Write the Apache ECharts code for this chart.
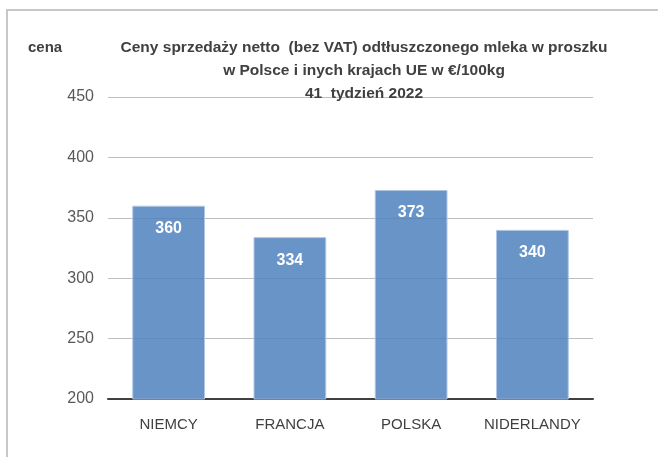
<!DOCTYPE html>
<html>
<head>
<meta charset="utf-8">
<script src="https://cdn.jsdelivr.net/npm/echarts@6/dist/echarts.min.js"></script>
<style>
  html, body { margin: 0; padding: 0; background: #fff; }
  #chart { width: 658px; height: 457px; }
</style>
</head>
<body>
<div id="chart"></div>
<script>
  const categories = ['NIEMCY', 'FRANCJA', 'POLSKA', 'NIDERLANDY'];
  const prices = [360, 334, 373, 340];
  const titleLines = [
    'Ceny sprzedaży netto  (bez VAT) odtłuszczonego mleka w proszku',
    'w Polsce i inych krajach UE w €/100kg',
    '41  tydzień 2022'
  ];

  const chart = echarts.init(document.getElementById('chart'));

  const option = {
    animation: false,
    textStyle: { fontFamily: 'Liberation Sans, Arial, sans-serif' },
    graphic: [
      {
        type: 'rect',
        shape: { x: 7, y: 10, width: 700, height: 500 },
        style: { fill: 'none', stroke: '#c8c8c8', lineWidth: 2 },
        silent: true
      },
      {
        type: 'text',
        left: 28,
        top: 40,
        style: { text: 'cena', fill: '#404040', font: 'bold 15px Liberation Sans, Arial, sans-serif' }
      }
    ],
    title: {
      text: titleLines.join('\n'),
      left: 359,
      textAlign: 'center',
      top: 31,
      textStyle: {
        color: '#404040',
        fontSize: 15.5,
        fontWeight: 'bold',
        lineHeight: 23
      }
    },
    grid: {
      left: 108,
      right: 65,
      top: 97,
      bottom: 58
    },
    xAxis: {
      type: 'category',
      data: categories,
      axisLine: { lineStyle: { color: '#404040', width: 2 } },
      axisTick: { show: false },
      axisLabel: { color: '#404040', fontSize: 15, margin: 18, interval: 0 }
    },
    yAxis: {
      type: 'value',
      min: 200,
      max: 450,
      interval: 50,
      axisLine: { show: false },
      axisTick: { show: false },
      axisLabel: { color: '#595959', fontSize: 16, margin: 14 },
      splitLine: { lineStyle: { color: '#bfbfbf', width: 1 } }
    },
    series: [
      {
        type: 'bar',
        data: prices,
        barCategoryGap: '40%',
        itemStyle: {
          color: 'rgba(79,129,189,0.85)',
          borderColor: '#b0c6e4',
          borderWidth: 1
        },
        label: {
          show: true,
          position: 'insideTop',
          distance: 15,
          color: '#ffffff',
          fontSize: 16,
          fontWeight: 'bold'
        }
      }
    ]
  };

  chart.setOption(option);
</script>
</body>
</html>
